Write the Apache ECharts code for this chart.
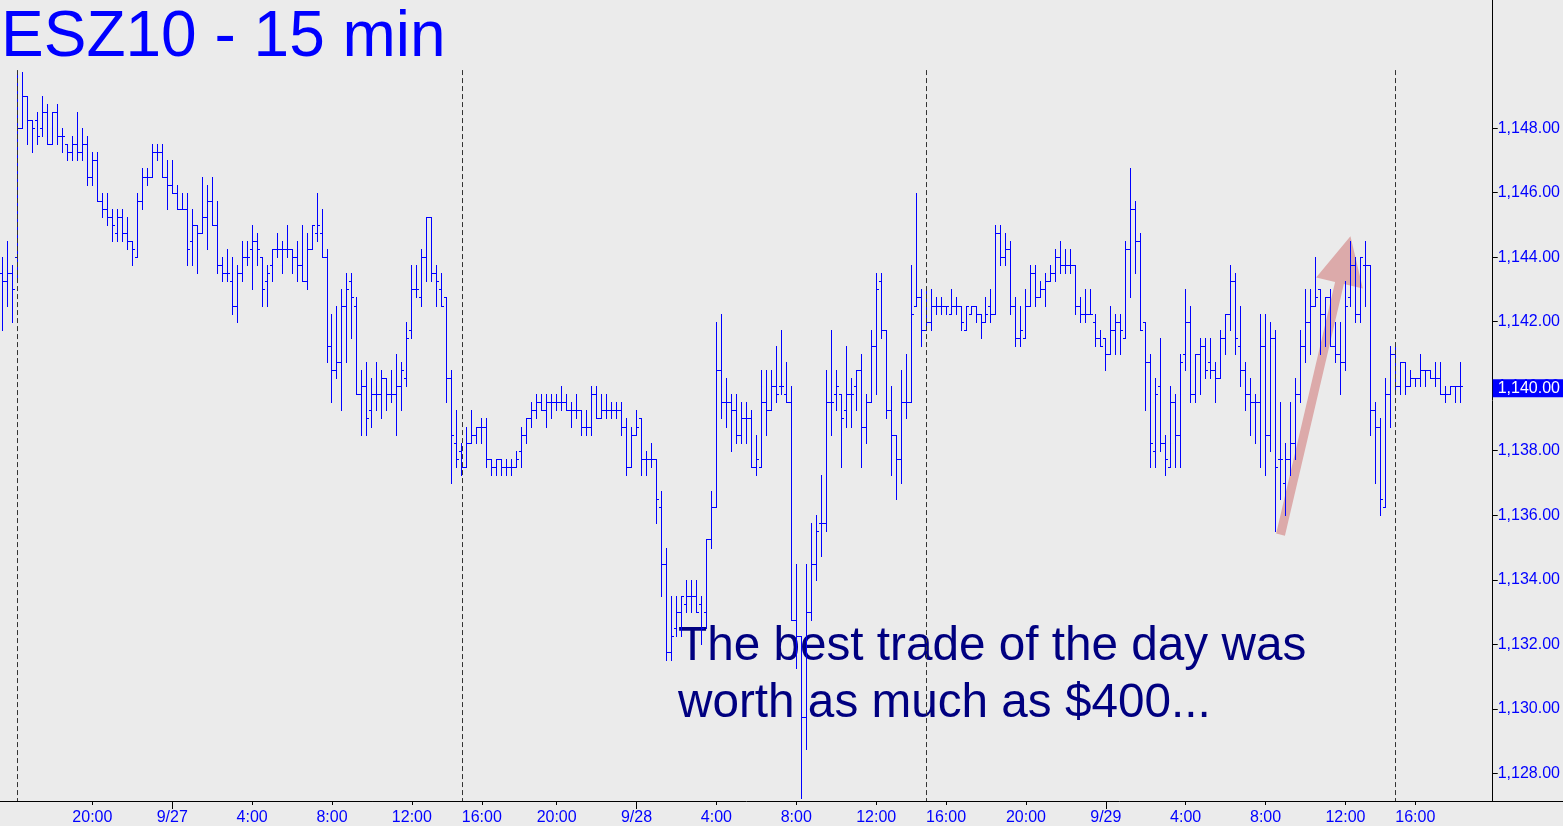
<!DOCTYPE html>
<html>
<head>
<meta charset="utf-8">
<script src="https://cdn.jsdelivr.net/npm/echarts@6/dist/echarts.min.js"></script>
<style>
  html, body { margin: 0; padding: 0; background: #ebebeb; }
  #chart { width: 1563px; height: 826px; }
</style>
</head>
<body>
<div id="chart"></div>
<script>
// ---------------- DATA ----------------
// Trading segments: [date, first bar time, number of 15-min bars]
const SEGMENTS = [
  ['9/24', '13:45', 3],
  ['9/26', '16:15', 89],
  ['9/27', '15:00', 9],
  ['9/27', '17:30', 84],
  ['9/28', '15:00', 94],
  ['9/29', '15:00', 20]
];
const SESSION_STARTS = ['9/26 16:15', '9/27 15:00', '9/28 15:00', '9/29 15:00'];

const open = [
1143.5,1143.25,1143.5,1144.0,1148.0,1149.0,1148.25,1148.25,1148.0,1148.5,
1147.5,1148.5,1147.75,1147.5,1147.25,1147.5,1147.25,1147.5,1146.5,1147.0,
1145.75,1145.5,1145.25,1144.75,1145.25,1144.75,1144.5,1144.0,1145.75,1146.5,
1146.5,1147.25,1147.25,1146.5,1146.25,1146.0,1145.5,1145.5,1144.5,1145.0,
1144.75,1145.25,1145.75,1145.0,1143.75,1143.5,1143.25,1142.5,1143.5,1144.0,
1144.25,1144.5,1144.0,1143.25,1143.75,1144.25,1144.25,1144.25,1144.25,1144.0,
1143.75,1143.25,1144.25,1144.75,1144.75,1144.0,1141.25,1140.5,1140.75,1142.5,
1143.25,1142.5,1139.75,1140.0,1139.25,1139.75,1139.75,1140.25,1139.75,1139.75,
1140.0,1140.25,1141.75,1143.0,1142.75,1144.0,1145.25,1143.5,1143.0,1142.75,
1140.25,1138.25,1138.0,1137.5,1138.25,1138.5,1138.75,1138.75,1137.75,1137.5,
1137.75,1137.5,1137.5,1137.5,1138.0,1138.5,1139.0,1139.25,1139.5,1139.25,
1139.5,1139.5,1139.5,1139.5,1139.25,1139.25,1139.25,1138.75,1138.75,1139.75,
1139.0,1139.25,1139.25,1139.25,1139.25,1138.75,1137.5,1138.5,1139.0,1137.75,
1137.75,1137.75,1136.25,1134.5,1131.75,1132.5,1133.0,1133.25,1133.5,1133.5,
1133.25,1133.0,1135.25,1136.25,1140.5,1139.5,1139.5,1139.25,1138.5,1139.0,
1139.0,1137.5,1137.5,1139.5,1139.25,1140.0,1140.0,1139.75,1139.5,1132.75,
1132.25,1129.75,1133.0,1134.5,1135.75,1135.75,1139.5,1139.75,1139.75,1139.25,
1139.75,1140.0,1140.5,1138.75,1139.5,1141.25,1143.25,1141.75,1139.25,1138.5,
1137.75,1139.5,1139.5,1142.5,1142.75,1141.75,1142.0,1142.5,1142.5,1142.5,
1142.25,1142.5,1142.5,1141.75,1142.25,1142.5,1142.25,1142.0,1142.5,1142.25,
1144.75,1144.0,1144.25,1142.5,1141.5,1141.5,1142.5,1143.5,1142.75,1143.0,
1143.25,1143.5,1144.0,1143.75,1143.75,1143.75,1142.5,1142.25,1142.25,1142.0,
1141.5,1141.5,1141.0,1141.75,1142.0,1141.5,1144.25,1145.5,1144.5,1142.0,
1140.75,1138.0,1140.0,1138.25,1137.5,1139.5,1138.5,1141.0,1142.0,1139.75,
1141.0,1141.25,1140.75,1140.5,1140.25,1141.5,1142.25,1143.25,1141.25,1140.5,
1139.75,1139.5,1139.5,1141.25,1138.5,1141.5,1137.75,1137.0,1137.75,1138.25,
1139.75,1141.25,1142.0,1142.5,1143.0,1142.25,1142.75,1141.25,1141.0,1140.75,
1142.75,1143.75,1142.25,1143.75,1143.75,1139.25,1138.75,1136.25,1139.75,1141.0,
1140.0,1140.75,1140.0,1140.25,1140.25,1140.5,1140.5,1140.25,1140.25,1139.75,
1139.75,1140.0,1140.0
];
const high = [
1144.0,1144.5,1143.75,1149.75,1149.75,1149.0,1148.25,1148.5,1149.0,1148.75,
1148.5,1148.75,1148.0,1147.5,1147.75,1148.5,1148.0,1147.75,1147.25,1147.25,
1146.0,1146.0,1145.5,1145.5,1145.5,1145.25,1144.5,1146.0,1146.75,1146.75,
1147.5,1147.5,1147.5,1147.0,1147.0,1146.25,1146.0,1146.0,1145.5,1145.0,
1146.5,1146.25,1146.5,1145.75,1144.0,1144.25,1144.0,1143.75,1144.5,1144.5,
1145.0,1144.75,1144.0,1143.75,1144.25,1144.75,1144.5,1145.0,1144.25,1144.5,
1145.0,1144.75,1145.0,1146.0,1145.5,1144.25,1142.25,1142.5,1143.0,1143.5,
1143.5,1142.75,1140.5,1140.75,1140.25,1140.75,1140.5,1140.25,1140.5,1141.0,
1140.75,1142.0,1143.75,1143.75,1144.25,1145.25,1145.25,1143.75,1143.5,1142.75,
1140.5,1139.25,1138.25,1138.75,1139.25,1138.75,1139.0,1139.0,1137.75,1137.75,
1137.75,1137.75,1137.75,1138.0,1138.75,1139.0,1139.5,1139.75,1139.75,1139.75,
1139.75,1139.75,1140.0,1139.75,1139.5,1139.75,1139.25,1139.25,1140.0,1140.0,
1139.75,1139.75,1139.5,1139.5,1139.5,1139.0,1138.75,1139.25,1139.0,1138.0,
1138.25,1137.75,1136.75,1135.0,1133.5,1133.5,1133.5,1134.0,1134.0,1134.0,
1133.5,1135.25,1136.75,1142.0,1142.25,1140.25,1139.75,1139.75,1139.5,1139.5,
1139.25,1138.5,1140.5,1140.5,1140.5,1141.25,1141.75,1140.75,1140.0,1134.5,
1132.25,1134.5,1135.75,1136.0,1137.25,1140.5,1141.75,1140.5,1139.75,1141.25,
1140.25,1140.5,1141.0,1139.75,1141.75,1143.5,1143.5,1141.75,1140.0,1138.5,
1140.5,1141.0,1143.75,1146.0,1143.0,1143.0,1143.0,1142.75,1142.75,1142.5,
1143.0,1142.75,1142.5,1142.5,1142.5,1142.5,1142.25,1142.75,1143.0,1145.0,
1145.0,1144.75,1144.5,1142.75,1142.5,1143.0,1143.75,1143.75,1143.25,1143.5,
1143.75,1144.25,1144.5,1144.25,1144.25,1143.75,1142.75,1143.0,1143.0,1142.25,
1141.75,1141.5,1142.5,1142.25,1142.25,1144.5,1146.75,1145.75,1144.75,1142.0,
1141.0,1140.25,1141.5,1138.5,1140.0,1139.75,1141.0,1143.0,1142.5,1141.0,
1141.5,1141.5,1141.5,1140.75,1141.75,1142.25,1143.75,1143.5,1142.5,1140.75,
1140.25,1139.75,1142.25,1142.25,1142.0,1141.75,1139.5,1138.25,1139.5,1140.25,
1141.75,1143.0,1143.0,1144.0,1143.0,1142.75,1143.0,1142.0,1142.0,1143.25,
1144.5,1144.0,1144.0,1144.5,1143.75,1139.5,1139.0,1140.25,1141.25,1141.25,
1140.75,1140.75,1140.5,1140.25,1141.0,1140.5,1140.5,1140.75,1140.75,1140.0,
1140.0,1140.0,1140.75
];
const low = [
1141.75,1142.5,1142.0,1143.25,1148.0,1147.5,1147.25,1147.5,1147.75,1147.5,
1147.5,1147.5,1147.25,1147.0,1147.0,1147.0,1147.0,1146.25,1146.25,1145.75,
1145.25,1145.0,1144.5,1144.5,1144.5,1144.25,1143.75,1144.0,1145.5,1146.25,
1146.5,1147.0,1146.5,1145.5,1146.0,1145.5,1145.5,1143.75,1143.75,1143.5,
1144.75,1144.25,1145.0,1143.5,1143.25,1143.25,1142.25,1142.0,1143.25,1143.75,
1143.0,1143.75,1142.5,1142.5,1143.25,1144.0,1143.5,1144.0,1143.5,1143.25,
1143.25,1143.0,1144.25,1144.5,1144.0,1140.75,1139.5,1140.25,1139.25,1140.75,
1141.5,1139.75,1138.5,1138.5,1138.75,1139.25,1139.0,1139.25,1139.5,1138.5,
1139.25,1140.0,1141.5,1142.75,1142.5,1143.25,1143.25,1142.5,1142.5,1139.5,
1137.0,1137.5,1137.25,1137.5,1138.25,1138.25,1138.25,1137.5,1137.25,1137.25,
1137.25,1137.25,1137.25,1137.5,1137.5,1138.25,1138.75,1139.0,1139.25,1138.75,
1139.0,1139.25,1139.25,1139.25,1138.75,1139.0,1138.5,1138.5,1138.5,1139.0,
1139.0,1139.0,1139.0,1139.0,1138.5,1137.25,1137.5,1138.5,1137.25,1137.25,
1137.5,1135.75,1133.5,1131.5,1131.5,1132.25,1132.25,1133.0,1133.0,1133.0,
1132.0,1132.5,1135.0,1136.25,1139.0,1138.75,1138.0,1138.25,1138.25,1138.25,
1137.5,1137.25,1137.5,1138.5,1139.25,1139.5,1139.75,1139.5,1132.75,1131.25,
1127.25,1128.75,1132.75,1134.0,1134.75,1135.5,1138.5,1139.25,1137.5,1138.75,
1138.75,1139.25,1137.5,1138.25,1139.5,1139.75,1141.5,1139.0,1137.25,1136.5,
1137.0,1139.0,1139.5,1142.5,1141.25,1141.75,1141.75,1142.25,1142.25,1142.25,
1142.25,1142.25,1141.75,1141.75,1142.25,1142.0,1141.5,1142.0,1142.0,1142.25,
1143.75,1143.75,1142.25,1141.25,1141.25,1141.5,1142.5,1142.5,1142.75,1142.5,
1143.25,1143.25,1143.5,1143.5,1143.5,1142.25,1142.0,1142.0,1142.25,1141.25,
1141.25,1140.5,1141.0,1141.0,1141.0,1141.5,1142.75,1143.5,1141.75,1139.25,
1137.5,1137.5,1138.0,1137.25,1137.5,1137.5,1137.5,1140.5,1139.5,1139.5,
1139.75,1140.25,1140.25,1139.5,1140.25,1141.0,1141.75,1141.0,1140.0,1139.25,
1138.5,1138.25,1137.5,1137.25,1138.0,1135.5,1136.5,1136.0,1137.25,1137.75,
1139.5,1140.75,1141.0,1142.5,1141.0,1141.25,1141.25,1140.75,1139.75,1140.5,
1142.5,1142.0,1142.0,1142.5,1138.5,1137.0,1136.0,1136.25,1138.75,1139.75,
1139.75,1139.75,1140.0,1140.0,1140.0,1140.0,1140.25,1140.0,1139.75,1139.5,
1139.75,1139.5,1139.5
];
const close = [
1143.25,1143.5,1143.0,1148.0,1149.0,1148.25,1148.0,1147.75,1148.5,1147.5,
1148.5,1147.75,1147.75,1147.25,1147.5,1147.25,1147.5,1146.5,1147.0,1145.75,
1145.5,1145.25,1145.0,1145.25,1144.75,1144.5,1144.25,1145.75,1146.5,1146.5,
1147.25,1147.25,1146.5,1146.25,1146.0,1145.5,1145.5,1144.25,1145.0,1144.75,
1145.25,1145.75,1145.0,1143.75,1143.5,1143.5,1142.5,1143.5,1144.0,1144.0,
1144.5,1144.25,1143.0,1143.5,1144.25,1144.25,1144.25,1144.25,1144.0,1143.75,
1143.25,1144.25,1145.0,1145.0,1144.0,1141.25,1140.5,1140.75,1142.5,1143.0,
1142.75,1139.75,1140.0,1139.0,1139.75,1139.75,1140.25,1139.75,1139.75,1140.0,
1140.5,1141.5,1143.0,1143.0,1144.0,1145.25,1143.5,1143.25,1142.5,1140.25,
1138.5,1137.75,1137.5,1138.25,1138.5,1138.75,1138.75,1137.75,1137.5,1137.75,
1137.5,1137.5,1137.5,1137.75,1138.5,1139.0,1139.25,1139.5,1139.25,1139.5,
1139.5,1139.5,1139.5,1139.25,1139.25,1139.25,1138.75,1138.75,1139.75,1139.0,
1139.25,1139.25,1139.25,1139.25,1138.75,1137.5,1138.5,1138.75,1137.75,1137.75,
1137.75,1136.5,1134.5,1131.75,1132.25,1133.0,1133.5,1133.5,1133.5,1133.0,
1132.5,1135.25,1136.25,1140.5,1139.5,1139.5,1139.25,1138.5,1139.0,1139.0,
1137.5,1137.75,1139.5,1139.25,1140.0,1139.75,1140.0,1139.5,1132.75,1132.25,
1129.75,1133.0,1134.5,1135.5,1135.75,1139.5,1139.5,1140.0,1139.0,1139.75,
1139.75,1140.5,1138.75,1139.5,1141.25,1143.0,1141.75,1139.25,1138.5,1137.75,
1139.5,1139.5,1142.25,1142.75,1141.75,1142.0,1142.5,1142.5,1142.5,1142.5,
1142.5,1142.5,1142.0,1142.5,1142.5,1142.25,1142.0,1142.25,1142.25,1144.75,
1144.0,1144.25,1142.5,1141.5,1141.75,1142.5,1143.5,1142.75,1143.0,1143.25,
1143.5,1144.0,1143.75,1143.75,1143.75,1142.5,1142.25,1142.25,1142.25,1141.5,
1141.25,1141.0,1141.75,1142.0,1141.75,1144.25,1145.5,1144.5,1141.75,1140.75,
1138.25,1139.75,1138.25,1137.75,1139.5,1138.5,1140.75,1142.0,1139.75,1141.0,
1141.25,1140.5,1140.5,1140.25,1141.5,1142.25,1143.25,1141.5,1140.5,1139.75,
1139.5,1139.5,1141.25,1138.5,1141.5,1137.5,1137.75,1137.75,1138.25,1139.75,
1141.25,1142.0,1142.5,1142.75,1142.25,1142.75,1141.25,1141.0,1140.75,1142.5,
1143.75,1142.25,1144.0,1143.75,1139.25,1138.75,1136.5,1139.75,1141.0,1140.0,
1140.75,1140.0,1140.25,1140.25,1140.5,1140.5,1140.25,1140.25,1139.75,1139.75,
1140.0,1140.0,1140.0
];

const Y_TICKS = [1128, 1130, 1132, 1134, 1136, 1138, 1140, 1142, 1144, 1146, 1148];
const Y_MIN = 1127.142, Y_MAX = 1151.972;
const SESSION_TOP = 1149.8;

const TITLE = 'ESZ10 - 15 min';
const NOTE = 'The best trade of the day was\nworth as much as $400...';
// arrow annotation in data space: [bar index, price]
const ARROW_FROM = [255.6, 1135.4];
const ARROW_TO = [269.9, 1144.65];

// ---------------- BUILD ----------------
function pad2(n) { return (n < 10 ? '0' : '') + n; }
const categories = [];
SEGMENTS.forEach(function (seg) {
  let parts = seg[0].split('/');
  let mon = +parts[0], day = +parts[1];
  let t = seg[1].split(':');
  let m = (+t[0]) * 60 + (+t[1]);
  for (let k = 0; k < seg[2]; k++) {
    if (m >= 1440) { m -= 1440; day += 1; }
    categories.push(mon + '/' + day + ' ' + Math.floor(m / 60) + ':' + pad2(m % 60));
    m += 15;
  }
});

function timeOf(cat) { return cat.split(' ')[1]; }
function isLabeled(cat) {
  const t = timeOf(cat).split(':');
  return t[1] === '00' && (+t[0]) % 4 === 0;
}
function isDate(cat) { return timeOf(cat) === '0:00'; }
function fmtPrice(v) {
  const s = v.toFixed(2).split('.');
  return s[0].replace(/\B(?=(\d{3})+(?!\d))/g, ',') + '.' + s[1];
}

const barData = open.map(function (o, i) { return [i, o, high[i], low[i], close[i]]; });
const LAST = close[close.length - 1];
const FONT = 'Liberation Sans, Arial, sans-serif';
const BLUE = '#0000ff';

const chart = echarts.init(document.getElementById('chart'), null, { renderer: 'canvas' });

const markData = SESSION_STARTS.map(function (c) {
  return [{ coord: [c, SESSION_TOP] }, { coord: [c, Y_MIN] }];
});

chart.setOption({
  animation: false,
  backgroundColor: '#ebebeb',
  grid: { left: -2, right: 70, top: 0, bottom: 24 },
  xAxis: [{
    type: 'category',
    data: categories,
    boundaryGap: true,
    position: 'bottom',
    axisLine: { show: true, lineStyle: { color: '#000', width: 1 } },
    axisTick: {
      show: true, alignWithLabel: true, length: 4,
      interval: function (i, v) { return isLabeled(v); },
      lineStyle: { color: '#000' }
    },
    axisLabel: {
      interval: function (i, v) { return isLabeled(v); },
      formatter: function (v) { return isDate(v) ? v.split(' ')[0] : timeOf(v); },
      color: BLUE, fontSize: 16, fontFamily: FONT, margin: 9
    },
    splitLine: { show: false }
  }, {
    type: 'category',
    data: categories,
    boundaryGap: true,
    position: 'bottom',
    axisLine: { show: false },
    axisTick: {
      show: true, alignWithLabel: true, length: 8,
      interval: function (i, v) { return isDate(v); },
      lineStyle: { color: '#000' }
    },
    axisLabel: { show: false },
    splitLine: { show: false }
  }],
  yAxis: {
    type: 'value',
    position: 'right',
    min: Y_MIN, max: Y_MAX,
    axisLine: { show: true, lineStyle: { color: '#000', width: 1 } },
    axisTick: { show: true, length: 5, customValues: Y_TICKS, lineStyle: { color: '#000' } },
    axisLabel: {
      customValues: Y_TICKS,
      formatter: function (v) { return fmtPrice(v); },
      color: BLUE, fontSize: 16, fontFamily: FONT, margin: 5
    },
    splitLine: { show: false }
  },
  graphic: [{
    type: 'text', left: 1, top: 6, z: 0,
    style: { text: TITLE, fill: BLUE, fontSize: 64, fontFamily: FONT }
  }, {
    type: 'text', x: 678, y: 618, z: 0,
    style: {
      text: NOTE, fill: '#000080', fontSize: 47.7, fontFamily: FONT,
      lineHeight: 57, verticalAlign: 'top'
    }
  }, {
    type: 'rect', x: 1493, y: 801, z: 0,
    shape: { width: 70, height: 1 }, style: { fill: '#000' }
  }],
  series: [{
    type: 'custom',
    name: 'arrow',
    z: 1,
    silent: true,
    clip: false,
    data: [[ARROW_FROM[0], ARROW_FROM[1], ARROW_TO[0], ARROW_TO[1]]],
    encode: { x: [0, 2], y: [1, 3] },
    renderItem: function (params, api) {
      const a = api.coord([api.value(0), api.value(1)]);
      const b = api.coord([api.value(2), api.value(3)]);
      const dx = b[0] - a[0], dy = b[1] - a[1];
      const len = Math.sqrt(dx * dx + dy * dy);
      const ux = dx / len, uy = dy / len;
      const nx = -uy, ny = ux;
      const headLen = 48, headHalf = 24, shaftHalf = 4.5;
      const bx = b[0] - ux * headLen, by = b[1] - uy * headLen;
      const pts = [
        [a[0] + nx * shaftHalf, a[1] + ny * shaftHalf],
        [bx + nx * shaftHalf, by + ny * shaftHalf],
        [bx + nx * headHalf, by + ny * headHalf],
        [b[0], b[1]],
        [bx - nx * headHalf, by - ny * headHalf],
        [bx - nx * shaftHalf, by - ny * shaftHalf],
        [a[0] - nx * shaftHalf, a[1] - ny * shaftHalf]
      ];
      return { type: 'polygon', shape: { points: pts }, style: { fill: '#dcaaaa' } };
    }
  }, {
    type: 'custom',
    name: 'ESZ10',
    z: 3,
    silent: true,
    clip: false,
    data: barData,
    encode: { x: 0, y: [1, 2, 3, 4] },
    renderItem: function (params, api) {
      const i = api.value(0);
      const pH = api.coord([i, api.value(2)]);
      const pL = api.coord([i, api.value(3)]);
      const pO = api.coord([i, api.value(1)]);
      const pC = api.coord([i, api.value(4)]);
      const x = Math.floor(pH[0]) + 0.5;
      const yH = Math.round(pH[1]), yL = Math.round(pL[1]) + 1;
      const yO = Math.round(pO[1]) + 0.5, yC = Math.round(pC[1]) + 0.5;
      const st = { stroke: BLUE, lineWidth: 1 };
      return {
        type: 'group',
        children: [
          { type: 'line', shape: { x1: x, y1: yH, x2: x, y2: yL }, style: st },
          { type: 'line', shape: { x1: x - 2.5, y1: yO, x2: x, y2: yO }, style: st },
          { type: 'line', shape: { x1: x, y1: yC, x2: x + 2.5, y2: yC }, style: st }
        ]
      };
    },
    markLine: {
      silent: true,
      symbol: 'none',
      animation: false,
      label: { show: false },
      lineStyle: { color: '#333', width: 1, type: [5, 3] },
      data: markData
    }
  }, {
    type: 'custom',
    name: 'last',
    z: 5,
    silent: true,
    clip: false,
    data: [],
    renderItem: function () { return null; },
    markLine: {
      silent: true,
      symbol: 'none',
      animation: false,
      lineStyle: { color: 'rgba(0,0,0,0)', width: 1, type: 'solid' },
      label: {
        show: true, position: 'end', distance: 0,
        formatter: function () { return fmtPrice(LAST); },
        backgroundColor: BLUE, color: '#ffffff',
        fontSize: 16, fontFamily: FONT,
        padding: [1, 4, 1, 5], offset: [0, 2]
      },
      data: [{ yAxis: LAST }]
    }
  }]
});
</script>
</body>
</html>
